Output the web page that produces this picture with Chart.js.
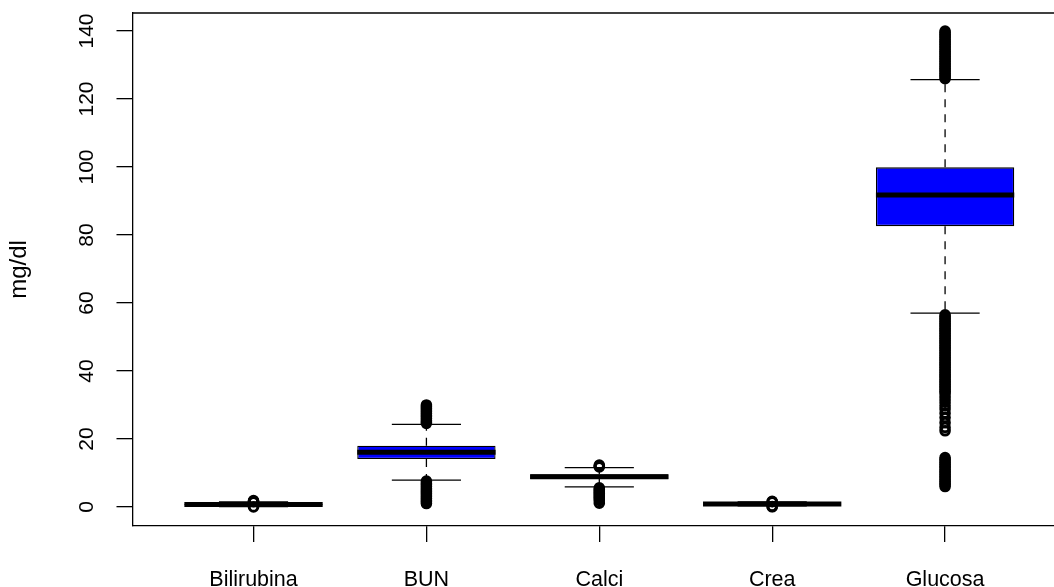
<!DOCTYPE html>
<html>
<head>
<meta charset="utf-8">
<title>Laboratorio</title>
<script src="https://cdn.jsdelivr.net/npm/chart.js@4.4.1/dist/chart.umd.min.js"></script>
<style>
  html, body { margin: 0; padding: 0; background: #ffffff; }
  #wrap { width: 1054px; height: 587px; position: relative; }
</style>
</head>
<body>
<div id="wrap"><canvas id="chart"></canvas></div>
<script>
// Box statistics per analyte (mg/dl)
const categories  = ['Bilirubina', 'BUN', 'Calci', 'Crea', 'Glucosa'];
const q1          = [0.5, 14.1, 8.2, 0.75, 82.6];
const medians     = [0.7, 16.1, 8.9, 0.9, 91.8];
const q3          = [0.9, 18.0, 9.6, 1.05, 99.9];
const whiskerLow  = [0.1, 7.9, 5.9, 0.3, 57.0];
const whiskerHigh = [1.5, 24.3, 11.6, 1.5, 125.7];

// Values beyond the whiskers
const outliersBilirubina = [0.0, 1.55, 1.7, 1.85];
const outliersBUN = [
  24.6, 25, 25.5, 26, 26.5, 27, 27.5, 28, 28.5, 29, 29.5, 30,
  7.6, 7, 6.5, 6, 5.5, 5, 4.5, 4, 3.5, 3, 2.5, 2, 1.5, 1
];
const outliersCalci = [
  11.8, 12.0, 12.3,
  5.6, 5.2, 4.8, 4.4, 4.0, 3.6, 3.2, 2.8, 2.4, 1.9, 1.1
];
const outliersCrea = [0.05, 0.15, 1.55, 1.65];
const outliersGlucosa = [
  126, 126.5, 127, 127.5, 128, 128.5, 129, 129.5, 130, 130.5, 131, 131.5,
  132, 132.5, 133, 133.5, 134, 134.5, 135, 135.5, 136, 136.5, 137, 137.5,
  138, 138.5, 139, 139.5, 140,
  56.5, 56, 55.5, 55, 54.5, 54, 53.5, 53, 52.5, 52, 51.5, 51, 50.5, 50,
  49.5, 49, 48.5, 48, 47.5, 47, 46.5, 46, 45.5, 45, 44.5, 44, 43.5, 43,
  42.5, 42, 41.5, 41, 40.5, 40, 39.5, 39, 38.5, 38, 37.5, 37, 36.5, 36,
  35.5, 35, 34.5, 34, 33.5,
  32.6, 31.7, 30.8, 29.8, 28.8, 27.6, 26.3, 24.8, 23.4, 22.4,
  14.5, 14, 13.5, 13, 12.5, 12, 11.5, 11, 10.5, 10, 9.5, 9, 8.5, 8,
  7.5, 7, 6.5, 6
];
const outliers = [outliersBilirubina, outliersBUN, outliersCalci, outliersCrea, outliersGlucosa];

const yTicks = [0, 20, 40, 60, 80, 100, 120, 140];
const yLabel = 'mg/dl';

// Geometry of each box group, in x-axis units
const boxHalf = 0.4;
const stapleHalf = 0.2;
const GAP = (x) => ({ x: x, y: null });

const boxData = categories.map((_, i) => ({ x: i + 1, y: [q1[i], q3[i]] }));

const medianData = [];
const whiskerData = [];
const stapleData = [];
const outlierData = [];
categories.forEach((_, i) => {
  const x = i + 1;
  medianData.push({ x: x - boxHalf, y: medians[i] }, { x: x + boxHalf, y: medians[i] }, GAP(x));
  whiskerData.push({ x: x, y: q3[i] }, { x: x, y: whiskerHigh[i] }, GAP(x),
                   { x: x, y: q1[i] }, { x: x, y: whiskerLow[i] }, GAP(x));
  stapleData.push({ x: x - stapleHalf, y: whiskerHigh[i] }, { x: x + stapleHalf, y: whiskerHigh[i] }, GAP(x),
                  { x: x - stapleHalf, y: whiskerLow[i] }, { x: x + stapleHalf, y: whiskerLow[i] }, GAP(x));
  outliers[i].forEach(v => outlierData.push({ x: x, y: v }));
});

const FONT = '"Liberation Sans", Arial, Helvetica, sans-serif';

// Top edge of the plot frame plus rotated y tick labels
const framePlugin = {
  id: 'framePlugin',
  afterDraw(chart) {
    const { ctx, chartArea, scales } = chart;
    ctx.save();
    ctx.strokeStyle = '#000';
    ctx.lineWidth = 1.3;
    ctx.beginPath();
    ctx.moveTo(chartArea.left, chartArea.top);
    ctx.lineTo(chartArea.right, chartArea.top);
    ctx.stroke();

    ctx.fillStyle = '#000';
    ctx.font = '21px ' + FONT;
    ctx.textAlign = 'center';
    ctx.textBaseline = 'alphabetic';
    const baseX = chartArea.left - 40;
    scales.y.ticks.forEach(t => {
      const py = scales.y.getPixelForValue(t.value);
      ctx.save();
      ctx.translate(baseX, py);
      ctx.rotate(-Math.PI / 2);
      ctx.fillText(String(t.value), 0, 0);
      ctx.restore();
    });
    ctx.restore();
  }
};

new Chart(document.getElementById('chart'), {
  type: 'bar',
  data: {
    datasets: [
      {
        type: 'scatter',
        label: 'outliers',
        data: outlierData,
        pointStyle: 'circle',
        pointRadius: 4.3,
        pointBorderWidth: 3,
        pointBorderColor: '#000',
        pointBackgroundColor: 'rgba(0,0,0,0)',
        order: 0
      },
      {
        type: 'line',
        label: 'median',
        data: medianData,
        borderColor: '#000',
        borderWidth: 5,
        borderCapStyle: 'butt',
        pointRadius: 0,
        fill: false,
        tension: 0,
        spanGaps: false,
        order: 1
      },
      {
        type: 'line',
        label: 'staples',
        data: stapleData,
        borderColor: '#000',
        borderWidth: 1.3,
        pointRadius: 0,
        fill: false,
        tension: 0,
        spanGaps: false,
        order: 2
      },
      {
        type: 'bar',
        label: 'box',
        data: boxData,
        backgroundColor: '#0000FF',
        borderColor: '#000',
        borderWidth: 1.3,
        borderSkipped: false,
        categoryPercentage: 1.0,
        barPercentage: 0.8,
        order: 3
      },
      {
        type: 'line',
        label: 'whiskers',
        data: whiskerData,
        borderColor: '#000',
        borderWidth: 1.3,
        borderDash: [8, 7],
        pointRadius: 0,
        fill: false,
        tension: 0,
        spanGaps: false,
        order: 4
      }
    ]
  },
  options: {
    responsive: true,
    maintainAspectRatio: false,
    animation: false,
    events: [],
    layout: { autoPadding: false, padding: { top: 13, right: 0, bottom: 0, left: 0 } },
    plugins: { legend: { display: false }, tooltip: { enabled: false } },
    scales: {
      x: {
        type: 'linear',
        offset: false,
        min: 0.3,
        max: 5.63,
        afterFit: (s) => { s.height = 61; },
        afterBuildTicks: (s) => { s.ticks = categories.map((_, i) => ({ value: i + 1 })); },
        ticks: {
          autoSkip: false,
          maxRotation: 0,
          minRotation: 0,
          padding: 25,
          color: '#000',
          font: { family: FONT, size: 21.5 },
          callback: (v) => categories[Math.round(v) - 1]
        },
        grid: { offset: false, drawOnChartArea: false, drawTicks: true, tickLength: 16, color: '#000', lineWidth: 1.3 },
        border: { display: true, color: '#000', width: 1.3 }
      },
      y: {
        type: 'linear',
        min: -5.6,
        max: 145.3,
        afterFit: (s) => { s.width = 132.5; },
        afterBuildTicks: (s) => { s.ticks = yTicks.map(v => ({ value: v })); },
        ticks: { display: false },
        grid: { drawOnChartArea: false, drawTicks: true, tickLength: 16, color: '#000', lineWidth: 1.3 },
        border: { display: true, color: '#000', width: 1.3 },
        title: {
          display: true,
          text: yLabel,
          color: '#000',
          font: { family: FONT, size: 24, lineHeight: 1.2 },
          padding: { top: 5, bottom: 0 }
        }
      }
    }
  },
  plugins: [framePlugin]
});
</script>
</body>
</html>
